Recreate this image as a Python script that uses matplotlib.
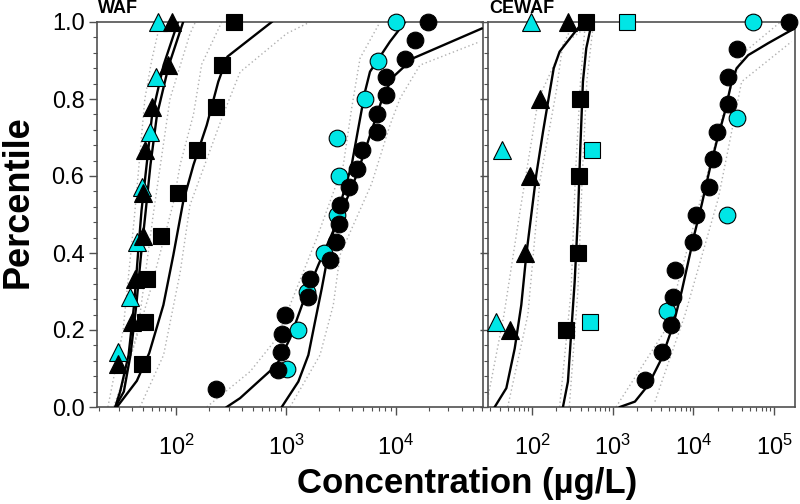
import matplotlib
matplotlib.use('Agg')
import matplotlib.pyplot as plt
from matplotlib.ticker import LogLocator, MultipleLocator, FormatStrFormatter

plt.rcParams['font.family'] = ['Liberation Sans', 'DejaVu Sans']
plt.rcParams['mathtext.fontset'] = 'custom'
plt.rcParams['mathtext.rm'] = 'Liberation Sans'

CYAN = '#00e6e6'

# ---------------- WAF panel: measured points (percentile, concentration ug/L)
waf_tri_cyan_p = [0.143, 0.286, 0.429, 0.571, 0.714, 0.857, 1.0]
waf_tri_cyan_c = [29.8, 38.2, 44, 48.7, 58, 65.8, 68.6]
waf_tri_black_p = [0.111, 0.222, 0.333, 0.444, 0.556, 0.667, 0.778, 0.889, 1.0]
waf_tri_black_c = [29.8, 39.5, 42.4, 50, 50.5, 52, 61, 85, 91]
waf_sq_black_p = [0.111, 0.222, 0.333, 0.444, 0.556, 0.667, 0.778, 0.889, 1.0]
waf_sq_black_c = [48.7, 52, 54.8, 73, 105, 156, 231, 260, 336]
waf_circ_black_p = [0.048, 0.095, 0.143, 0.190, 0.238, 0.286, 0.333, 0.381, 0.429, 0.476, 0.524,
                    0.571, 0.619, 0.667, 0.714, 0.762, 0.810, 0.857, 0.905, 0.952, 1.0]
waf_circ_black_c = [231, 851, 895, 914, 980, 1596, 1653, 2512, 2849, 3054, 3098,
                    3760, 4446, 4875, 6677, 6766, 8058, 8058, 12080, 14890, 19400]
waf_circ_cyan_p = [0.1, 0.2, 0.3, 0.4, 0.5, 0.6, 0.7, 0.8, 0.9, 1.0]
waf_circ_cyan_c = [1028, 1276, 1541, 2213, 2925, 3054, 2891, 5226, 6822, 9930]

# WAF fitted curves
waf_fit_tri_p = [0.0, 0.04, 0.135, 0.265, 0.395, 0.51, 0.629, 0.758, 0.888, 1.0]
waf_fit_tri_cyan_c = [28, 31, 37, 41.5, 45, 48.5, 54, 60.5, 77, 104]
waf_fit_tri_black_c = [28, 33.5, 38.5, 43.5, 48, 53, 58.5, 67, 86, 116]
waf_fit_sq_p = [0.0, 0.068, 0.14, 0.265, 0.395, 0.533, 0.629, 0.732, 0.845, 0.91, 1.0]
waf_fit_sq_c = [29, 44, 57, 76.7, 94.5, 116, 144, 190, 242, 293, 741]
waf_fit_cb_p = [0.0, 0.023, 0.07, 0.109, 0.178, 0.274, 0.369, 0.438, 0.516, 0.603, 0.68,
                0.758, 0.81, 0.858, 0.906, 0.983]
waf_fit_cb_c = [289, 382, 580, 822, 1087, 1436, 1967, 2512, 3300, 4395, 5420,
                6680, 7680, 9460, 14360, 60100]
waf_fit_cc_p = [0.0, 0.066, 0.135, 0.222, 0.308, 0.377, 0.455, 0.525, 0.629, 0.724, 0.819,
                0.871, 0.949, 1.0]
waf_fit_cc_c = [914, 1294, 1596, 1836, 2113, 2345, 2693, 3098, 3954, 4540, 5226,
                5800, 8810, 12080]

# WAF confidence bounds (dotted)
waf_band_tri_lo_p = [0.0, 0.2, 0.5, 0.8, 0.9, 1.0]
waf_band_tri_lo_c = [24, 33, 42, 52, 60, 72]
waf_band_tri_hi_p = [0.0, 0.2, 0.5, 0.8, 0.97, 1.0]
waf_band_tri_hi_c = [29, 45, 62, 88, 134, 150]
waf_band_sq_lo_p = [0.0, 0.1, 0.3, 0.53, 0.63, 0.76, 0.89, 1.0]
waf_band_sq_lo_c = [27, 36, 58, 94.5, 109, 144, 171, 260]
waf_band_sq_hi_p = [0.0, 0.135, 0.35, 0.525, 0.758, 0.87, 0.97, 1.0]
waf_band_sq_hi_c = [47, 77, 109, 134, 267, 382, 1013, 1650]
waf_band_c_lo_p = [0.0, 0.092, 0.178, 0.308, 0.438, 0.629, 0.776, 0.906, 1.0]
waf_band_c_lo_c = [190, 471, 822, 1250, 1900, 3320, 3950, 4710, 7160]
waf_band_c_hi_p = [0.0, 0.135, 0.265, 0.395, 0.58, 0.732, 0.802, 0.888, 0.949]
waf_band_c_hi_c = [1087, 2036, 2690, 3100, 6000, 8810, 10900, 16500, 58000]

# ---------------- CEWAF panel
ce_tri_cyan_p = [0.222, 0.667, 1.0]
ce_tri_cyan_c = [35.8, 42, 96]
ce_tri_black_p = [0.2, 0.4, 0.6, 0.8, 1.0]
ce_tri_black_c = [53, 82, 94, 126, 282]
ce_sq_black_p = [0.2, 0.4, 0.6, 0.8, 1.0]
ce_sq_black_c = [264, 368, 386, 393, 467]
ce_sq_cyan_p = [0.222, 0.667, 1.0]
ce_sq_cyan_c = [524, 558, 1489]
ce_circ_black_p = [0.071, 0.143, 0.214, 0.286, 0.357, 0.429, 0.5, 0.571, 0.643, 0.714,
                   0.786, 0.857, 0.929, 1.0]
ce_circ_black_c = [2515, 4050, 5270, 5530, 5910, 9980, 10770, 15740, 17660, 19770,
                   27100, 27100, 35000, 154500]
ce_circ_cyan_p = [0.25, 0.5, 0.75, 1.0]
ce_circ_cyan_c = [4750, 26400, 35000, 54300]

# CEWAF fitted curves
ce_fit_tri_p = [0.0, 0.049, 0.152, 0.265, 0.395, 0.499, 0.603, 0.715, 0.819, 0.88, 0.923, 0.962, 1.0]
ce_fit_tri_c = [34.5, 48.1, 61.1, 73.7, 85, 98, 113, 137, 166, 186, 220, 307, 428]
ce_fit_sq_p = [0.0, 0.066, 0.196, 0.325, 0.499, 0.672, 0.845, 0.932, 0.992]
ce_fit_sq_c = [242, 279, 307, 338, 372, 397, 428, 471, 543]
ce_fit_c_p = [0.0, 0.014, 0.057, 0.126, 0.213, 0.3, 0.377, 0.447, 0.525, 0.62, 0.689,
              0.767, 0.845, 0.88, 0.914, 0.945, 0.984]
ce_fit_c_c = [1230, 1888, 2762, 4045, 5634, 7160, 8645, 10260, 12670, 16060, 19440,
              24650, 29850, 34420, 47900, 84700, 181500]

# CEWAF confidence bounds (dotted)
ce_band_tri_lo_p = [0.0, 0.24, 0.5, 0.8, 1.0]
ce_band_tri_lo_c = [27, 45, 70, 120, 330]
ce_band_tri_hi_p = [0.0, 0.24, 0.585, 0.82, 0.94, 1.0]
ce_band_tri_hi_c = [50, 89, 125, 200, 240, 570]
ce_band_sq_lo_p = [0.0, 0.3, 0.6, 0.85, 1.0]
ce_band_sq_lo_c = [220, 305, 345, 400, 460]
ce_band_sq_hi_p = [0.0, 0.3, 0.6, 0.85, 1.0]
ce_band_sq_hi_c = [290, 370, 420, 480, 580]
ce_band_c_lo_p = [0.0, 0.2, 0.5, 0.8, 0.92, 1.0]
ce_band_c_lo_c = [1100, 4500, 11000, 26000, 42000, 120000]
ce_band_c_hi_p = [0.014, 0.239, 0.542, 0.845, 0.949]
ce_band_c_hi_c = [3340, 7870, 20400, 39700, 165000]


def pts(ax, c, p, marker, color, ms):
    ax.plot(c, p, linestyle='none', marker=marker, markersize=ms, markerfacecolor=color,
            markeredgecolor='black', markeredgewidth=0.8, clip_on=False, zorder=4)


def fit(ax, c, p):
    ax.plot(c, p, color='black', lw=1.7, zorder=3)


def band(ax, c, p):
    ax.plot(c, p, color='#b0b0b0', lw=1.0, linestyle=(0, (1, 2)), zorder=2)


def style(ax, xlim, label, show_y):
    ax.set_xscale('log')
    ax.set_xlim(*xlim)
    ax.set_ylim(0, 1)
    ax.xaxis.set_major_locator(LogLocator(base=10))
    ax.xaxis.set_minor_locator(LogLocator(base=10, subs=range(2, 10)))
    ax.yaxis.set_major_locator(MultipleLocator(0.2))
    ax.yaxis.set_minor_locator(MultipleLocator(0.04))
    ax.yaxis.set_major_formatter(FormatStrFormatter('%.1f'))
    ax.tick_params(axis='x', which='major', direction='out', length=6, width=1, pad=14,
                   labelsize=17, color='#505050')
    ax.tick_params(axis='x', which='minor', direction='out', length=3, width=0.8, color='#505050')
    ax.tick_params(axis='y', which='major', direction='out', length=6, width=1, pad=3,
                   labelsize=17, color='#505050', labelleft=show_y)
    ax.tick_params(axis='y', which='minor', direction='out', length=3, width=0.8, color='#505050')
    for s in ax.spines.values():
        s.set_color('#505050')
        s.set_linewidth(1.2)
    ax.text(0.003, 1.012, label, transform=ax.transAxes, ha='left', va='bottom',
            fontsize=13, fontweight='bold')


fig = plt.figure(figsize=(8, 5.04), dpi=100)
ax1 = fig.add_axes([97 / 800, 97 / 504, 386 / 800, 385 / 504])
ax2 = fig.add_axes([488 / 800, 97 / 504, 307 / 800, 385 / 504])

# WAF
band(ax1, waf_band_tri_lo_c, waf_band_tri_lo_p)
band(ax1, waf_band_tri_hi_c, waf_band_tri_hi_p)
band(ax1, waf_band_sq_lo_c, waf_band_sq_lo_p)
band(ax1, waf_band_sq_hi_c, waf_band_sq_hi_p)
band(ax1, waf_band_c_lo_c, waf_band_c_lo_p)
band(ax1, waf_band_c_hi_c, waf_band_c_hi_p)
fit(ax1, waf_fit_tri_cyan_c, waf_fit_tri_p)
fit(ax1, waf_fit_tri_black_c, waf_fit_tri_p)
fit(ax1, waf_fit_sq_c, waf_fit_sq_p)
fit(ax1, waf_fit_cb_c, waf_fit_cb_p)
fit(ax1, waf_fit_cc_c, waf_fit_cc_p)
pts(ax1, waf_tri_cyan_c, waf_tri_cyan_p, '^', CYAN, 13)
pts(ax1, waf_tri_black_c, waf_tri_black_p, '^', 'black', 13)
pts(ax1, waf_sq_black_c, waf_sq_black_p, 's', 'black', 11.5)
pts(ax1, waf_circ_cyan_c, waf_circ_cyan_p, 'o', CYAN, 12)
pts(ax1, waf_circ_black_c, waf_circ_black_p, 'o', 'black', 12)
style(ax1, (19.1, 61800), 'WAF', True)

# CEWAF
band(ax2, ce_band_tri_lo_c, ce_band_tri_lo_p)
band(ax2, ce_band_tri_hi_c, ce_band_tri_hi_p)
band(ax2, ce_band_sq_lo_c, ce_band_sq_lo_p)
band(ax2, ce_band_sq_hi_c, ce_band_sq_hi_p)
band(ax2, ce_band_c_lo_c, ce_band_c_lo_p)
band(ax2, ce_band_c_hi_c, ce_band_c_hi_p)
fit(ax2, ce_fit_tri_c, ce_fit_tri_p)
fit(ax2, ce_fit_sq_c, ce_fit_sq_p)
fit(ax2, ce_fit_c_c, ce_fit_c_p)
pts(ax2, ce_tri_cyan_c, ce_tri_cyan_p, '^', CYAN, 13)
pts(ax2, ce_tri_black_c, ce_tri_black_p, '^', 'black', 13)
pts(ax2, ce_sq_cyan_c, ce_sq_cyan_p, 's', CYAN, 11.5)
pts(ax2, ce_sq_black_c, ce_sq_black_p, 's', 'black', 11.5)
pts(ax2, ce_circ_cyan_c, ce_circ_cyan_p, 'o', CYAN, 12)
pts(ax2, ce_circ_black_c, ce_circ_black_p, 'o', 'black', 12)
style(ax2, (28.5, 182000), 'CEWAF', False)

fig.text(467 / 800, (504 - 483) / 504, 'Concentration (µg/L)', ha='center', va='center',
         fontsize=25, fontweight='bold')
fig.text(1 / 800, (504 - 202) / 504, 'Percentile', ha='left', va='center',
         rotation=90, fontsize=26, fontweight='bold')

fig.savefig('out.png', dpi=100)
